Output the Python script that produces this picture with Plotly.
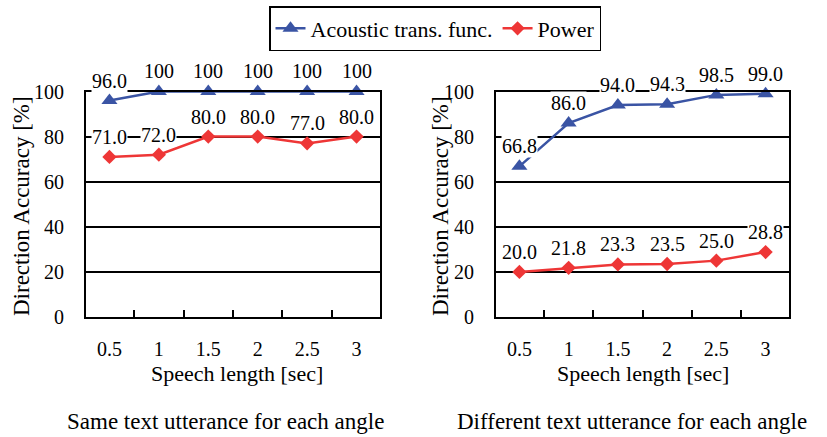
import plotly.graph_objects as go

# Speech length categories (seconds)
speech_len = ["0.5", "1", "1.5", "2", "2.5", "3"]

# Same text utterance for each angle
same_acoustic = [96.0, 100, 100, 100, 100, 100]
same_power = [71.0, 72.0, 80.0, 80.0, 77.0, 80.0]
same_acoustic_lbl = ["96.0", "100", "100", "100", "100", "100"]
same_power_lbl = ["71.0", "72.0", "80.0", "80.0", "77.0", "80.0"]

# Different text utterance for each angle
diff_acoustic = [66.8, 86.0, 94.0, 94.3, 98.5, 99.0]
diff_power = [20.0, 21.8, 23.3, 23.5, 25.0, 28.8]
diff_acoustic_lbl = ["66.8", "86.0", "94.0", "94.3", "98.5", "99.0"]
diff_power_lbl = ["20.0", "21.8", "23.3", "23.5", "25.0", "28.8"]

y_ticks = [0, 20, 40, 60, 80, 100]

BLUE = "#3a54a4"
RED = "#ee3636"
FONT = "Liberation Serif"

fig = go.Figure()

panels = [
    ("x", "y", same_acoustic, same_power, same_acoustic_lbl, same_power_lbl, True),
    ("x2", "y2", diff_acoustic, diff_power, diff_acoustic_lbl, diff_power_lbl, False),
]

annotations = []
for xa, ya, ac, pw, ac_lbl, pw_lbl, show in panels:
    fig.add_trace(go.Scatter(
        x=speech_len, y=ac, xaxis=xa, yaxis=ya, mode="lines+markers",
        name="Acoustic trans. func.", showlegend=show, cliponaxis=False,
        line=dict(color=BLUE, width=2.5),
        marker=dict(symbol="triangle-up", size=14, color=BLUE),
    ))
    fig.add_trace(go.Scatter(
        x=speech_len, y=pw, xaxis=xa, yaxis=ya, mode="lines+markers",
        name="Power", showlegend=show, cliponaxis=False,
        line=dict(color=RED, width=2.5),
        marker=dict(symbol="diamond", size=11, color=RED),
    ))
    # value labels above each point (category index positions)
    for vals, lbls in ((ac, ac_lbl), (pw, pw_lbl)):
        for i, (v, t) in enumerate(zip(vals, lbls)):
            annotations.append(dict(
                x=i, y=v, xref=xa, yref=ya, text=t, showarrow=False,
                xanchor="center", yanchor="middle",
                yshift=20, bgcolor="white", borderpad=0,
                font=dict(family=FONT, size=20, color="black"),
            ))

axis_common = dict(
    showline=True, linecolor="black", linewidth=2, mirror=True,
    tickfont=dict(family=FONT, size=20, color="black"),
)
xaxis_common = dict(
    axis_common, type="category", tickson="boundaries", ticks="inside",
    ticklen=7, tickwidth=1.5, tickcolor="black", showgrid=False,
    ticklabelstandoff=13,
)
yaxis_common = dict(
    axis_common, range=[0, 100], tickvals=y_ticks, ticks="",
    showgrid=True, gridcolor="black", gridwidth=1.5, zeroline=False,
    ticklabelstandoff=16,
)

y_dom = [1 - 317 / 437, 1 - 91.5 / 437]
fig.update_layout(
    xaxis=dict(xaxis_common, domain=[86 / 827, 380 / 827]),
    xaxis2=dict(xaxis_common, domain=[496 / 827, 789 / 827], anchor="y2"),
    yaxis=dict(yaxis_common, domain=y_dom),
    yaxis2=dict(yaxis_common, domain=y_dom, anchor="x2"),
)

def paper_text(cx, cy, text, size=22, angle=0):
    return dict(
        x=cx / 827, y=1 - cy / 437, xref="paper", yref="paper", text=text,
        textangle=angle, showarrow=False, xanchor="center", yanchor="middle",
        font=dict(family=FONT, size=size, color="black"),
    )

# Axis titles and panel captions
annotations += [
    paper_text(237, 373, "Speech length [sec]"),
    paper_text(643, 373, "Speech length [sec]"),
    paper_text(21, 206, "Direction Accuracy [%]", size=23, angle=-90),
    paper_text(440, 206, "Direction Accuracy [%]", size=23, angle=-90),
    paper_text(225, 421, "Same text utterance for each angle", size=23),
    paper_text(632, 421, "Different text utterance for each angle", size=23),
]

fig.update_layout(
    width=827, height=437,
    margin=dict(l=0, r=0, t=0, b=0, autoexpand=False),
    paper_bgcolor="white", plot_bgcolor="white",
    annotations=annotations,
    legend=dict(
        orientation="h", x=435 / 827, xanchor="center", y=1 - 6 / 437,
        yanchor="top", bordercolor="black", borderwidth=1.5,
        font=dict(family=FONT, size=22, color="black"),
        itemwidth=30, tracegroupgap=0,
    ),
    showlegend=True,
)

fig.write_html("out.html")
